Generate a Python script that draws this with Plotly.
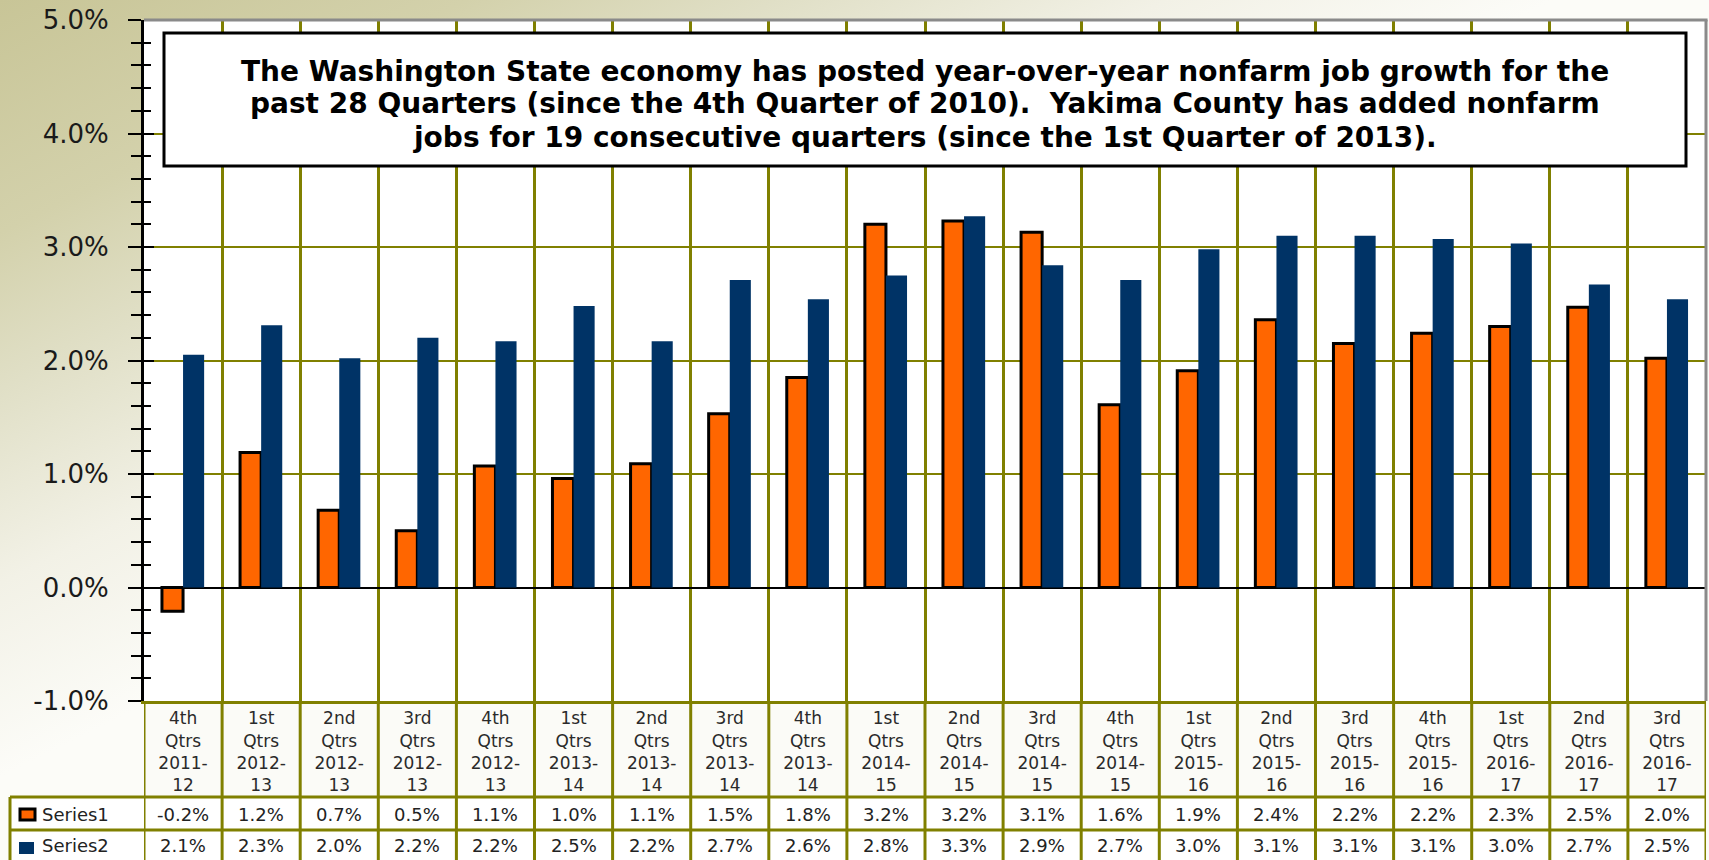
import base64
import plotly.graph_objects as go

# ---------------- data ----------------
quarters = ["4th", "1st", "2nd", "3rd", "4th", "1st", "2nd", "3rd", "4th", "1st",
            "2nd", "3rd", "4th", "1st", "2nd", "3rd", "4th", "1st", "2nd", "3rd"]
year_starts = ["2011", "2012", "2012", "2012", "2012", "2013", "2013", "2013", "2013", "2014",
               "2014", "2014", "2014", "2015", "2015", "2015", "2015", "2016", "2016", "2016"]
year_ends = ["12", "13", "13", "13", "13", "14", "14", "14", "14", "15",
             "15", "15", "15", "16", "16", "16", "16", "17", "17", "17"]

series1 = [-0.21, 1.19, 0.68, 0.50, 1.07, 0.96, 1.09, 1.53, 1.85, 3.20,
           3.23, 3.13, 1.61, 1.91, 2.36, 2.15, 2.24, 2.30, 2.47, 2.02]
series2 = [2.05, 2.31, 2.02, 2.20, 2.17, 2.48, 2.17, 2.71, 2.54, 2.75,
           3.27, 2.84, 2.71, 2.98, 3.10, 3.10, 3.07, 3.03, 2.67, 2.54]

series1_labels = ["-0.2%", "1.2%", "0.7%", "0.5%", "1.1%", "1.0%", "1.1%", "1.5%", "1.8%", "3.2%",
                  "3.2%", "3.1%", "1.6%", "1.9%", "2.4%", "2.2%", "2.2%", "2.3%", "2.5%", "2.0%"]
series2_labels = ["2.1%", "2.3%", "2.0%", "2.2%", "2.2%", "2.5%", "2.2%", "2.7%", "2.6%", "2.8%",
                  "3.3%", "2.9%", "2.7%", "3.0%", "3.1%", "3.1%", "3.1%", "3.0%", "2.7%", "2.5%"]

series_names = ["Series1", "Series2"]

y_tick_vals = [-1, 0, 1, 2, 3, 4, 5]
y_tick_labels = ["-1.0%", "0.0%", "1.0%", "2.0%", "3.0%", "4.0%", "5.0%"]

note_lines = [
    "The Washington State economy has posted year-over-year nonfarm job growth for the",
    "past 28 Quarters (since the 4th Quarter of 2010).  Yakima County has added nonfarm",
    "jobs for 19 consecutive quarters (since the 1st Quarter of 2013).",
]

y_min, y_max = -1, 5

categories = [f"{q} Qtrs {a}-{b}" for q, a, b in zip(quarters, year_starts, year_ends)]
tick_text = [f"{q}<br>Qtrs<br>{a}-<br>{b}" for q, a, b in zip(quarters, year_starts, year_ends)]

# ---------------- geometry helpers ----------------
FIG_W, FIG_H = 1709, 860
L, R, T, B = 144, 3, 20, 159
PW = FIG_W - L - R
PH = FIG_H - T - B


def px(xp):
    return (xp - L) / PW


def py(yp):
    return 1 - (yp - T) / PH


ORANGE = "#FF6600"
NAVY = "#003366"
OLIVE = "#808000"
FONT = "DejaVu Sans"

# ---------------- background gradient (svg data uri) ----------------
svg = (
    f'<svg xmlns="http://www.w3.org/2000/svg" width="{FIG_W}" height="{FIG_H}" '
    f'viewBox="0 0 {FIG_W} {FIG_H}" preserveAspectRatio="none">'
    '<defs><linearGradient id="g" x1="0" y1="0" x2="311" y2="622" gradientUnits="userSpaceOnUse">'
    '<stop offset="0" stop-color="#c8c597"/>'
    '<stop offset="0.3" stop-color="#d3d1ab"/>'
    '<stop offset="0.5" stop-color="#e0dfc6"/>'
    '<stop offset="0.75" stop-color="#f2f1e6"/>'
    '<stop offset="1" stop-color="#fcfcf8"/>'
    '</linearGradient></defs>'
    '<rect x="0" y="0" width="100%" height="100%" fill="url(#g)"/></svg>'
)
svg_uri = "data:image/svg+xml;base64," + base64.b64encode(svg.encode()).decode()

# ---------------- traces ----------------
fig = go.Figure()
fig.add_trace(go.Bar(x=categories, y=series1, name=series_names[0],
                     marker=dict(color=ORANGE, line=dict(color="black", width=3))))
fig.add_trace(go.Bar(x=categories, y=series2, name=series_names[1],
                     marker=dict(color=NAVY, line=dict(width=0))))
fig.add_trace(go.Scatter(x=[categories[0]], y=[None], yaxis="y2", mode="markers",
                         showlegend=False, hoverinfo="skip"))

shapes = []
# white plot area & table fills (below gridlines)
shapes.append(dict(type="rect", xref="paper", yref="paper", x0=0, x1=1, y0=0, y1=1,
                   fillcolor="white", line=dict(width=0), layer="below"))
shapes.append(dict(type="rect", xref="paper", yref="paper", x0=0, x1=1, y0=py(797), y1=0,
                   fillcolor="#fbfbf7", line=dict(width=0), layer="below"))
shapes.append(dict(type="rect", xref="paper", yref="paper", x0=px(10), x1=1, y0=py(862), y1=py(797),
                   fillcolor="white", line=dict(width=0), layer="below"))

# plot frame (top & right, grey)
shapes.append(dict(type="line", xref="paper", yref="paper", x0=0, x1=1.001, y0=1, y1=1,
                   line=dict(color="#8a8a8a", width=3)))
shapes.append(dict(type="line", xref="paper", yref="paper", x0=1, x1=1, y0=0, y1=1,
                   line=dict(color="#8a8a8a", width=3)))

# table lines
for yy in (797, 830):
    shapes.append(dict(type="line", xref="paper", yref="paper", x0=px(10), x1=1, y0=py(yy), y1=py(yy),
                       line=dict(color=OLIVE, width=3)))
for i in range(len(categories) + 1):
    shapes.append(dict(type="line", xref="x", yref="paper", x0=i - 0.5, x1=i - 0.5,
                       y0=py(862), y1=0, line=dict(color=OLIVE, width=3)))
shapes.append(dict(type="line", xref="paper", yref="paper", x0=px(10), x1=px(10),
                   y0=py(862), y1=py(797), line=dict(color=OLIVE, width=3)))

# legend keys in table
shapes.append(dict(type="rect", xref="paper", yref="paper", x0=px(20), x1=px(35),
                   y0=py(820), y1=py(809), fillcolor=ORANGE, line=dict(color="black", width=3)))
shapes.append(dict(type="rect", xref="paper", yref="paper", x0=px(19), x1=px(34),
                   y0=py(854), y1=py(842), fillcolor=NAVY, line=dict(width=0)))

# note box
shapes.append(dict(type="rect", xref="paper", yref="paper", x0=px(164), x1=px(1686),
                   y0=py(166), y1=py(33), fillcolor="white", line=dict(color="black", width=3)))

annotations = []
for line_text, yc in zip(note_lines, (71, 104, 137)):
    annotations.append(dict(text=f"<b>{line_text}</b>", xref="paper", yref="paper",
                            x=px(925), y=py(yc), xanchor="center", yanchor="middle",
                            showarrow=False, font=dict(family=FONT, size=28, color="black")))

for cat, s1, s2 in zip(categories, series1_labels, series2_labels):
    annotations.append(dict(text=s1, xref="x", yref="paper", x=cat, y=py(814),
                            xanchor="center", yanchor="middle", showarrow=False,
                            font=dict(family=FONT, size=18, color="#222222")))
    annotations.append(dict(text=s2, xref="x", yref="paper", x=cat, y=py(845),
                            xanchor="center", yanchor="middle", showarrow=False,
                            font=dict(family=FONT, size=18, color="#222222")))

for name, yc in zip(series_names, (814, 845)):
    annotations.append(dict(text=name, xref="paper", yref="paper", x=px(40), y=py(yc),
                            xanchor="left", yanchor="middle", showarrow=False,
                            font=dict(family=FONT, size=18, color="#222222")))

fig.update_layout(
    width=FIG_W, height=FIG_H, autosize=False,
    margin=dict(l=L, r=R, t=T, b=B, pad=0),
    paper_bgcolor="white", plot_bgcolor="white",
    barmode="group", bargap=0.46, bargroupgap=0,
    showlegend=False,
    images=[dict(source=svg_uri, xref="paper", yref="paper", x=-L / PW, y=1 + T / PH,
                 sizex=FIG_W / PW, sizey=FIG_H / PH, xanchor="left", yanchor="top",
                 sizing="stretch", layer="below")],
    shapes=shapes,
    annotations=annotations,
    xaxis=dict(type="category", categoryorder="array", categoryarray=categories,
               range=[-0.5, len(categories) - 0.5],
               tickmode="array", tickvals=categories, ticktext=tick_text,
               tickfont=dict(family=FONT, size=17, color="#2a2a2a"),
               showgrid=True, gridcolor=OLIVE, gridwidth=3, tickson="boundaries",
               ticks="", showline=True, linecolor=OLIVE, linewidth=3, zeroline=False),
    yaxis=dict(range=[y_min, y_max], tickmode="array", tickvals=y_tick_vals,
               ticktext=y_tick_labels,
               tickfont=dict(family=FONT, size=26, color="#1a1a1a"),
               showgrid=True, gridcolor=OLIVE, gridwidth=2,
               zeroline=True, zerolinecolor="black", zerolinewidth=2,
               showline=True, linecolor="black", linewidth=3,
               ticks="outside", ticklen=13, tickwidth=2, tickcolor="black",
               ticklabelstandoff=14,
               minor=dict(tickmode="linear", tick0=0, dtick=0.2, ticks="outside", ticklen=10,
                          tickwidth=2, tickcolor="black", showgrid=False)),
    yaxis2=dict(overlaying="y", anchor="x", side="left", range=[y_min, y_max],
                tickmode="linear", tick0=y_min, dtick=1,
                ticks="inside", ticklen=10, tickwidth=2, tickcolor="black",
                showticklabels=False, showgrid=False, zeroline=False, showline=False,
                minor=dict(dtick=0.2, ticks="inside", ticklen=7, tickwidth=2,
                           tickcolor="black", showgrid=False)),
)

fig.write_html("out.html",
               config={"displayModeBar": False},
               post_script="document.body.style.margin='0px';"
                           "document.documentElement.style.overflow='hidden';")
